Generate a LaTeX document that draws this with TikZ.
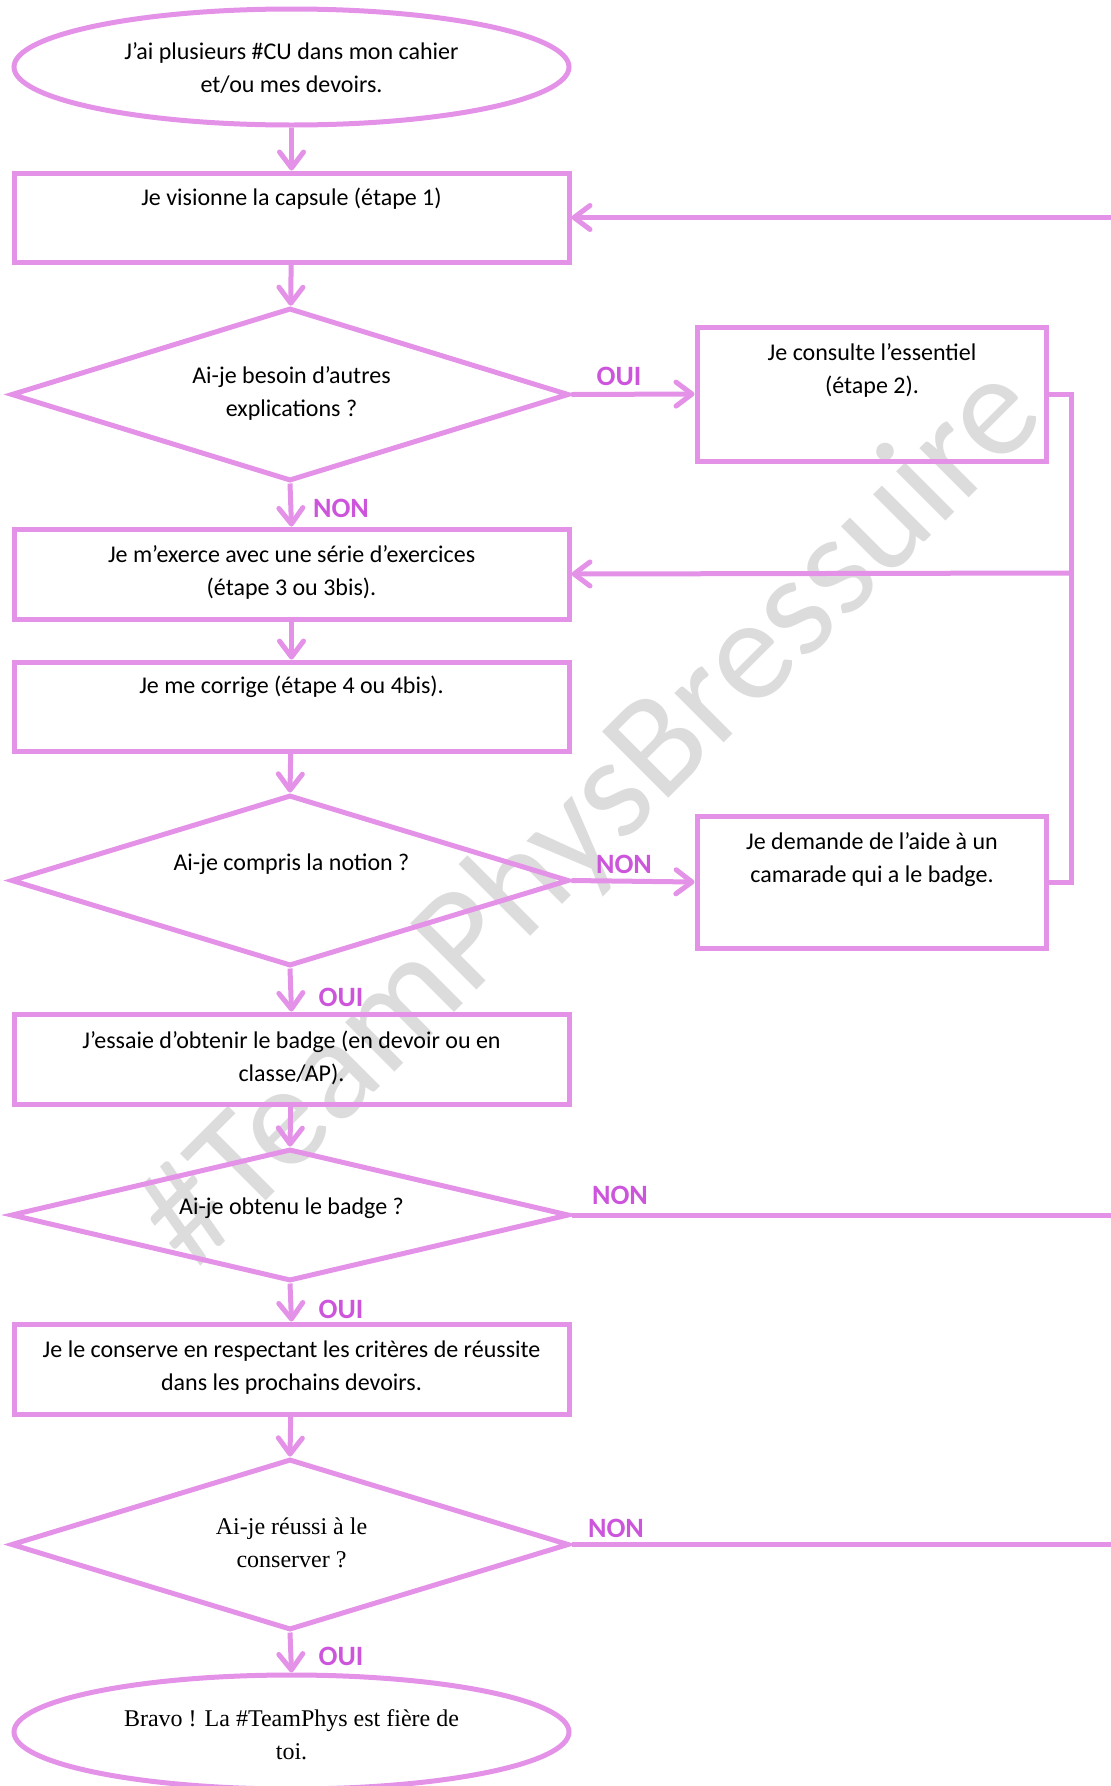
\documentclass[tikz,border=0pt]{standalone}
\usepackage{fontspec}
\setmainfont{Carlito}
\newfontfamily\timesfont{Liberation Serif}
\usetikzlibrary{shapes.geometric,arrows.meta}
\definecolor{lin}{HTML}{E491E8}
\definecolor{lab}{HTML}{CC55DC}
\definecolor{wm}{HTML}{DCDCDC}
\begin{document}
\begin{tikzpicture}[x=1pt,y=-1pt,
  shp/.style={draw=lin, line width=5pt, inner sep=0pt},
  boxs/.style={shp, rectangle, minimum width=555pt},
  sbox/.style={shp, rectangle, minimum width=349pt},
  dia/.style={shp, diamond, minimum width=558pt},
  ell/.style={shp, ellipse, minimum width=555pt},
  arr/.style={draw=lin, line width=5pt, -{Straight Barb[length=16pt,width=24pt,round]}},
  conn/.style={draw=lin, line width=5pt},
  txt/.style={align=center, font=\fontsize{24}{33}\selectfont},
  ttxt/.style={align=center, font=\timesfont\fontsize{24}{33}\selectfont},
  lbl/.style={text=lab, font=\bfseries\fontsize{28}{28}\selectfont},
]
\useasboundingbox (0,0) rectangle (1111,1786);
\node[rotate=45, anchor=base, text=wm, font=\fontsize{146}{146}\selectfont] (wmk) at (621,846) {\#TeamPhysBressuire};

% shapes
\node[ell, minimum height=116pt] (e1) at (291.5,67) {};
\node[boxs, minimum height=89pt] (b1) at (291.5,217.5) {};
\node[dia, minimum height=173pt] (d1) at (290,394.5) {};
\node[sbox, minimum height=134pt] (b2) at (871.5,394) {};
\node[boxs, minimum height=90pt] (b3) at (291.5,574) {};
\node[boxs, minimum height=89pt] (b4) at (291.5,706.5) {};
\node[dia, minimum height=171pt] (d2) at (290,880.5) {};
\node[sbox, minimum height=132pt] (b5) at (871.5,882) {};
\node[boxs, minimum height=90pt] (b6) at (291.5,1059) {};
\node[dia, minimum height=132pt] (d3) at (290,1215) {};
\node[boxs, minimum height=90pt] (b7) at (291.5,1369) {};
\node[dia, minimum height=171pt] (d4) at (290,1544.5) {};
\node[ell, minimum height=114pt] (e2) at (291.5,1732) {};

% texts
\node[txt] (te1) at (291.5,68.5) {J’ai plusieurs \#CU dans mon cahier\\et/ou mes devoirs.};
\node[txt] (tb1) at (291.5,199) {Je visionne la capsule (étape 1)};
\node[txt] (td1) at (291.5,393.5) {Ai-je besoin d’autres\\explications ?};
\node[txt] (tb2) at (872,370.5) {Je consulte l’essentiel\\(étape 2).};
\node[txt] (tb3) at (291.5,572.5) {Je m’exerce avec une série d’exercices\\(étape 3 ou 3bis).};
\node[txt] (tb4) at (291.5,687) {Je me corrige (étape 4 ou 4bis).};
\node[txt] (td2) at (291.5,864) {Ai-je compris la notion ?};
\node[txt] (tb5) at (872,860) {Je demande de l’aide à un\\camarade qui a le badge.};
\node[txt] (tb6) at (291.5,1058) {J’essaie d’obtenir le badge (en devoir ou en\\classe/AP).};
\node[txt] (td3) at (291.5,1208) {Ai-je obtenu le badge ?};
\node[txt] (tb7) at (291.5,1367.5) {Je le conserve en respectant les critères de réussite\\dans les prochains devoirs.};
\node[ttxt] (td4) at (291.5,1542.5) {Ai-je réussi à le\\conserver ?};
\node[ttxt] (te2) at (291.5,1734.5) {Bravo ! La \#TeamPhys est fière de\\toi.};

% labels
\node[lbl] (l1) at (619,376) {OUI};
\node[lbl] (l2) at (341,508) {NON};
\node[lbl] (l3) at (624,864) {NON};
\node[lbl] (l4) at (341,997) {OUI};
\node[lbl] (l5) at (620,1195) {NON};
\node[lbl] (l6) at (341,1309) {OUI};
\node[lbl] (l7) at (616,1528) {NON};
\node[lbl] (l8) at (341,1656) {OUI};

% coordinates
\coordinate (edge1) at (1111,217.5);
\coordinate (edge3) at (1111,1215);
\coordinate (edge4) at (1111,1544.5);
\coordinate (j) at (1071,573);

% connectors
\draw[arr] (e1) -- (b1);
\draw[arr] (edge1) -- (b1.east);
\draw[arr] (b1) -- (d1);
\draw[arr] (d1.east) -- (b2.west);
\draw[arr] (d1.south) -- (b3.north);
\draw[conn] (b2.east) -| (j) |- (b5.east);
\draw[arr] (j) -- (b3.east);
\draw[arr] (b3) -- (b4);
\draw[arr] (b4) -- (d2.north);
\draw[arr] (d2.east) -- (b5.west);
\draw[arr] (d2.south) -- (b6.north);
\draw[arr] (b6) -- (d3.north);
\draw[conn] (d3.east) -- (edge3);
\draw[arr] (d3.south) -- (b7.north);
\draw[arr] (b7) -- (d4.north);
\draw[conn] (d4.east) -- (edge4);
\draw[arr] (d4.south) -- (e2.north);
\end{tikzpicture}
\end{document}
